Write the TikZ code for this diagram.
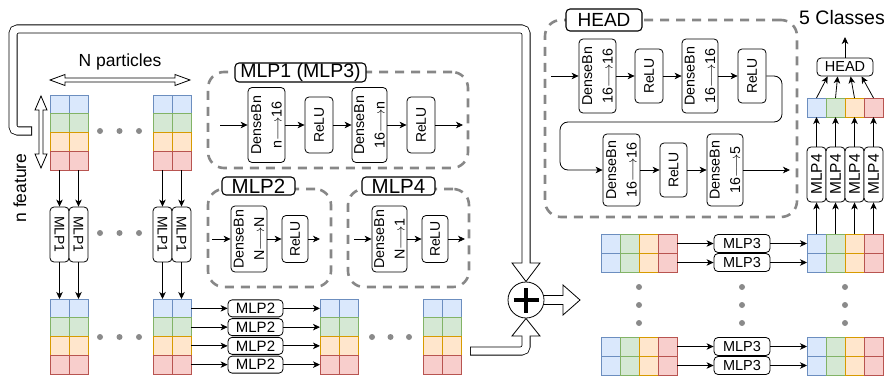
\documentclass[tikz,border=0pt]{standalone}
\usepackage{fontspec}
\setmainfont{Liberation Sans}
\usepackage{graphicx}
\usetikzlibrary{arrows.meta,calc}
\definecolor{fB}{HTML}{DAE8FC}\definecolor{sB}{HTML}{6C8EBF}
\definecolor{fG}{HTML}{D5E8D4}\definecolor{sG}{HTML}{82B366}
\definecolor{fO}{HTML}{FFE6CC}\definecolor{sO}{HTML}{D79B00}
\definecolor{fR}{HTML}{F8CECC}\definecolor{sR}{HTML}{B85450}
\definecolor{dashgray}{HTML}{878787}
\definecolor{dotgray}{HTML}{8A8A8A}
\newcommand\larr{\ensuremath{\longrightarrow}}
\begin{document}
\begin{tikzpicture}[x=1pt,y=1pt,line width=0.8pt,
  cell/.style={draw=s#1,fill=f#1,line width=0.8pt,minimum width=19pt,minimum height=18.75pt,inner sep=0pt,outer sep=0pt},
  cellq/.style={cell=#1,minimum height=19pt},
  sz/.style 2 args={minimum width=#1pt,minimum height=#2pt},
  conn/.style={-{Stealth[length=7pt,width=6.5pt,inset=2pt]},line width=0.8pt},
  blk/.style={draw,rounded corners=4pt,fill=white,inner sep=0pt,line width=0.8pt,font=\fontsize{14}{20}\selectfont},
  vt/.style={rotate=90,align=center,inner sep=0pt,font=\fontsize{14.3}{20.5}\selectfont},
  lab/.style={draw,rounded corners=4pt,fill=white,inner sep=0pt,line width=1.1pt,font=\fontsize{19.5}{22}\selectfont},
  dbox/.style={draw=dashgray,line width=2.6pt,dash pattern=on 9pt off 7pt,rounded corners=16pt,inner sep=0pt},
  gdot/.style={fill=dotgray},
  hollow/.style={draw,fill=white,line width=0.8pt,line join=miter},
  big/.style={font=\fontsize{17.5}{20}\selectfont},
]
\useasboundingbox (0,0) rectangle (888,-377);

% ---------- big hollow arrows ----------
\draw[line width=9pt,rounded corners=4.5pt] (32,-131) -- (13,-131) -- (13,-29) -- (526,-29) -- (526,-263);
\draw[hollow] (512,-263) -- (540,-263) -- (526,-281.5) -- cycle;
\draw[white,line width=7.4pt,rounded corners=4.5pt,shorten <=0.8pt] (32,-131) -- (13,-131) -- (13,-29) -- (526,-29) -- (526,-263.9);

\draw[line width=9pt,rounded corners=4.5pt] (470,-351) -- (526,-351) -- (526,-336);
\draw[hollow] (512,-336) -- (540,-336) -- (526,-318.5) -- cycle;
\draw[white,line width=7.4pt,rounded corners=4.5pt,shorten <=0.8pt] (470,-351) -- (526,-351) -- (526,-335.1);

\draw[line width=10pt] (530,-300) -- (563,-300);
\draw[hollow] (563,-285) -- (580,-300) -- (563,-315) -- cycle;
\draw[white,line width=8.4pt] (530,-300) -- (563.9,-300);

\node[circle,draw,fill=white,minimum size=36pt,inner sep=0pt,line width=0.8pt] (plus) at (526,-300) {};
\draw[line width=4.6pt] ($(plus)+(-12.5,0)$) -- ($(plus)+(12.5,0)$);
\draw[line width=4.6pt] ($(plus)+(0,-12.5)$) -- ($(plus)+(0,12.5)$);

% ---------- left part ----------
\node[big] (np) at (120,-62) {N particles};
\draw[hollow] (50,-80) -- (65,-74.5) -- (65,-78) -- (175,-78) -- (175,-74.5) -- (190,-80) -- (175,-85.5) -- (175,-82) -- (65,-82) -- (65,-85.5) -- cycle;
\draw[hollow] (41,-96) -- (47,-110) -- (43,-110) -- (43,-154) -- (47,-154) -- (41,-168) -- (35,-154) -- (39,-154) -- (39,-110) -- (35,-110) -- cycle;
\node[big,rotate=90] (nf) at (20,-188) {n feature};

\foreach \g/\xx/\yy in {TA/50/95,TB/153/95,BA/50/299,BB/153/299,BC/320/299,BD/423/299}{
  \foreach \c in {1,2}{
    \foreach \r/\k in {1/B,2/G,3/O,4/R}{
      \node[cell=\k,anchor=north west] (\g\c\r) at ({\xx+19*(\c-1)},{-\yy-18.75*(\r-1)}) {};
    }}}

\foreach \g/\xx in {A/59.5,B/162.5}{
  \foreach \c in {1,2}{
    \node[blk,sz={19}{55}] (M1\g\c) at ({\xx+19*(\c-1)},-234.5) {\rotatebox{-90}{MLP1}};
    \draw[conn] (T\g\c4) -- (M1\g\c);
    \draw[conn] (M1\g\c) -- (B\g\c1);
  }}

\foreach \yy in {131,233,337}{
  \foreach \xx in {100,119.5,139}{\fill[gdot] (\xx,-\yy) circle (3);}}
\foreach \xx in {372,390.5,409}{\fill[gdot] (\xx,-337) circle (3);}

\foreach \r in {1,2,3,4}{
  \node[blk,sz={55}{17},font=\fontsize{15}{18}\selectfont] (M2\r) at (255.5,{-299-18.75*(\r-0.5)}) {MLP2};
  \draw[conn] (BB2\r) -- (M2\r);
  \draw[conn] (M2\r) -- (BC1\r);
}

% ---------- MLP1 (MLP3) container ----------
\node[dbox,sz={260}{96}] (C1) at (338,-120) {};
\node[lab,sz={131}{19}] (L1) at (300.5,-72.5) {MLP1 (MLP3)};
\coordinate (i1) at (220,-125);
\node[blk,sz={37}{75}] (d11) at (266.5,-125) {};
\node[vt] (d11t) at (d11) {DenseBn\\n\larr16};
\node[blk,sz={28}{56}] (r11) at (319,-125) {\rotatebox{90}{ReLU}};
\node[blk,sz={35}{75}] (d12) at (369.5,-125) {};
\node[vt] (d12t) at (d12) {DenseBn\\16\larr n};
\node[blk,sz={28}{56}] (r12) at (421,-125) {\rotatebox{90}{ReLU}};
\coordinate (o1) at (463,-125);
\draw[conn] (i1) -- (d11);
\draw[conn] (d11) -- (r11);
\draw[conn] (r11) -- (d12);
\draw[conn] (d12) -- (r12);
\draw[conn] (r12) -- (o1);

% ---------- MLP2 container ----------
\node[dbox,sz={123}{98}] (C2) at (269.5,-238) {};
\node[lab,sz={73}{18},font=\fontsize{20.5}{22}\selectfont] (L2) at (258.5,-186) {MLP2};
\coordinate (i2) at (212,-239);
\node[blk,sz={36}{66}] (d2) at (249,-239) {};
\node[vt] (d2t) at (d2) {DenseBn\\N\larr N};
\node[blk,sz={26}{47}] (r2) at (295,-239) {\rotatebox{90}{ReLU}};
\coordinate (o2) at (320,-239);
\draw[conn] (i2) -- (d2);
\draw[conn] (d2) -- (r2);
\draw[conn] (r2) -- (o2);

% ---------- MLP4 container ----------
\node[dbox,sz={121}{98}] (C4) at (408.5,-238) {};
\node[lab,sz={73}{18},font=\fontsize{20.5}{22}\selectfont] (L4) at (398.5,-186) {MLP4};
\coordinate (i4) at (354,-239);
\node[blk,sz={35}{66}] (d4) at (389.5,-239) {};
\node[vt] (d4t) at (d4) {DenseBn\\N\larr1};
\node[blk,sz={26}{47}] (r4) at (435,-239) {\rotatebox{90}{ReLU}};
\coordinate (o4) at (465,-239);
\draw[conn] (i4) -- (d4);
\draw[conn] (d4) -- (r4);
\draw[conn] (r4) -- (o4);

% ---------- HEAD container ----------
\node[dbox,sz={252}{197}] (CH) at (671,-118.5) {};
\node[lab,sz={76}{22},font=\fontsize{19}{22}\selectfont] (LH) at (604,-20) {HEAD};
\coordinate (ih) at (551,-76);
\node[blk,sz={37}{74}] (hd1) at (597.5,-76) {};
\node[vt] (hd1t) at (hd1) {DenseBn\\16\larr16};
\node[blk,sz={28}{54}] (hr1) at (649,-76) {\rotatebox{90}{ReLU}};
\node[blk,sz={36}{74}] (hd2) at (700,-76) {};
\node[vt] (hd2t) at (hd2) {DenseBn\\16\larr16};
\node[blk,sz={28}{54}] (hr2) at (752,-76) {\rotatebox{90}{ReLU}};
\node[blk,sz={37}{72}] (hd3) at (621.5,-170) {};
\node[vt] (hd3t) at (hd3) {DenseBn\\16\larr16};
\node[blk,sz={27}{54}] (hr3) at (673.5,-170) {\rotatebox{90}{ReLU}};
\node[blk,sz={36}{72}] (hd4) at (725,-170) {};
\node[vt] (hd4t) at (hd4) {DenseBn\\16\larr5};
\coordinate (oh) at (790,-170);
\draw[conn] (ih) -- (hd1);
\draw[conn] (hd1) -- (hr1);
\draw[conn] (hr1) -- (hd2);
\draw[conn] (hd2) -- (hr2);
\draw[conn,rounded corners=8pt] (hr2.east) -- (782,-76) -- (782,-122) -- (560,-122) -- (560,-170) -- (hd3.west);
\draw[conn] (hd3) -- (hr3);
\draw[conn] (hr3) -- (hd4);
\draw[conn] (hd4) -- (oh);

% ---------- right column ----------
\node[font=\fontsize{19.5}{22}\selectfont] (cls) at (842,-18) {5 Classes};
\node[blk,sz={56}{18},font=\fontsize{14.5}{17}\selectfont] (HB) at (845,-67) {HEAD};
\coordinate (clsA) at (845,-37);
\draw[conn] (HB) -- (clsA);
\foreach \c/\k in {1/B,2/G,3/O,4/R}{
  \node[cellq=\k,anchor=north west] (V\c) at ({807+19*(\c-1)},-98) {};
  \node[blk,sz={19}{55},font=\fontsize{15.5}{18}\selectfont] (M4\c) at ({816.5+19*(\c-1)},-174.5) {\rotatebox{90}{MLP4}};
  \draw[conn] (M4\c) -- (V\c);
}
\draw[conn] (V1.north) -- ($(HB.south west)+(11,0)$);
\draw[conn] (V2.north) -- ($(HB.south west)+(21,0)$);
\draw[conn] (V3.north) -- ($(HB.south west)+(34,0)$);
\draw[conn] (V4.north) -- ($(HB.south west)+(45,0)$);

\foreach \g/\xx/\yy in {PL/601/234,PR/807/234,QL/601/337,QR/807/337}{
  \foreach \c/\k in {1/B,2/G,3/O,4/R}{
    \foreach \r in {1,2}{
      \node[cellq=\k,anchor=north west] (\g\c\r) at ({\xx+19*(\c-1)},{-\yy-19*(\r-1)}) {};
    }}}
\foreach \g/\yy in {P/234,Q/337}{
  \foreach \r in {1,2}{
    \node[blk,sz={56}{18},font=\fontsize{14.5}{17}\selectfont] (\g3\r) at (742,{-\yy-19*(\r-0.5)}) {MLP3};
    \draw[conn] (\g L4\r) -- (\g3\r);
    \draw[conn] (\g3\r) -- (\g R1\r);
  }}
\foreach \c in {1,2,3,4}{\draw[conn] (PR\c1) -- (M4\c);}
\foreach \xx in {639,742,845}{
  \foreach \yy in {287,305,323}{\fill[gdot] (\xx,-\yy) circle (3);}}
\end{tikzpicture}
\end{document}
